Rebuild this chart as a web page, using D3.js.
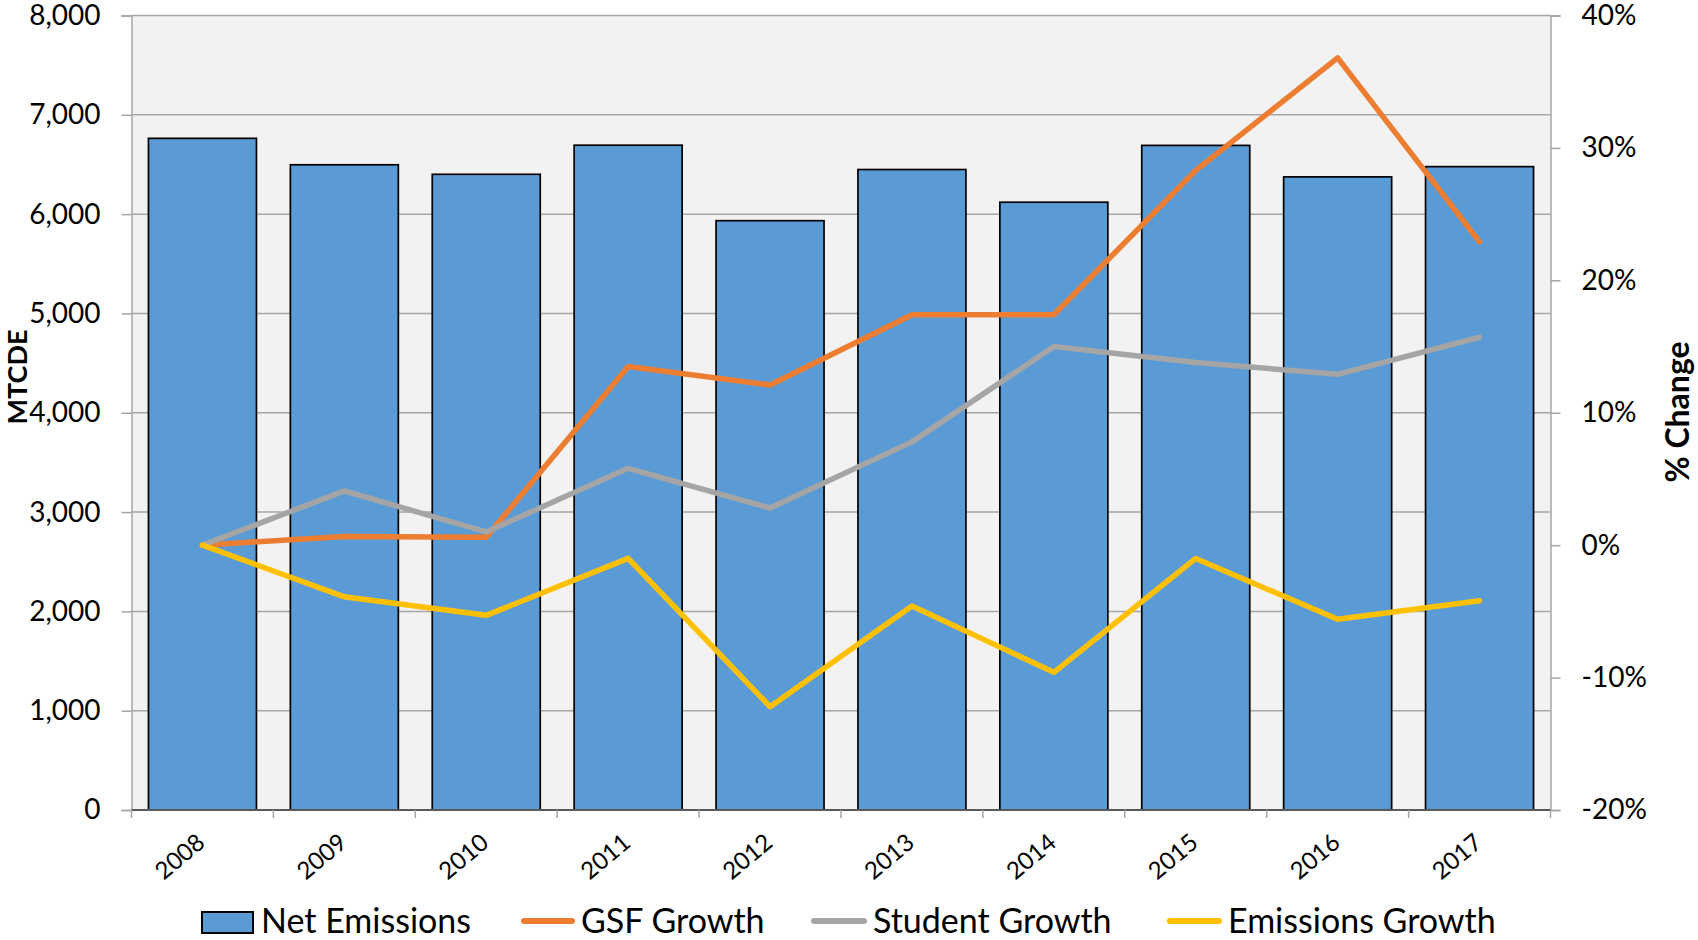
<!DOCTYPE html>
<html>
<head>
<meta charset="utf-8">
<script src="https://cdn.jsdelivr.net/npm/d3@7"></script>
<style>
  html, body { margin: 0; padding: 0; background: #ffffff; }
  svg { display: block; font-family: Lato, "Liberation Sans", sans-serif; }
</style>
</head>
<body>
<svg id="chart" width="1698" height="940"></svg>
<script>
// Annual net emissions (MTCDE) and growth relative to 2008 (%)
const years = ["2008", "2009", "2010", "2011", "2012", "2013", "2014", "2015", "2016", "2017"];
const netEmissions = [6763, 6497, 6401, 6694, 5934, 6449, 6120, 6692, 6375, 6478];
const gsfGrowth = [0, 0.66, 0.6, 13.5, 12.1, 17.4, 17.4, 28.3, 36.8, 22.9];
const studentGrowth = [0, 4.1, 1.0, 5.8, 2.8, 7.8, 15.0, 13.8, 12.9, 15.7];
const emissionsGrowth = [0, -3.9, -5.3, -1.0, -12.2, -4.6, -9.6, -1.0, -5.6, -4.2];

const leftTicks = [0, 1000, 2000, 3000, 4000, 5000, 6000, 7000, 8000];
const rightTicks = [-20, -10, 0, 10, 20, 30, 40];

const lineSeries = [
  { name: "GSF Growth", values: gsfGrowth, color: "#ed7d31" },
  { name: "Student Growth", values: studentGrowth, color: "#a5a5a5" },
  { name: "Emissions Growth", values: emissionsGrowth, color: "#ffc000" }
];

const svg = d3.select("#chart");
const plot = { left: 131.5, right: 1550.5, top: 15.5, bottom: 810 };

const x = d3.scaleBand().domain(years).range([plot.left, plot.right]).padding(0);
const barW = x.bandwidth() * 0.761;
const yL = d3.scaleLinear().domain([0, 8000]).range([plot.bottom, plot.top]);
const yR = d3.scaleLinear().domain([-20, 40]).range([plot.bottom, plot.top]);

// plot background
svg.append("rect")
  .attr("x", plot.left).attr("y", plot.top)
  .attr("width", plot.right - plot.left).attr("height", plot.bottom - plot.top)
  .attr("fill", "#f2f2f2");

// left axis with gridlines
const leftAxis = svg.append("g")
  .attr("transform", `translate(${plot.left},0)`)
  .call(d3.axisLeft(yL).tickValues(leftTicks).tickFormat(d3.format(",")).tickSize(10).tickPadding(21));
leftAxis.select(".domain").attr("stroke", "#a6a6a6").attr("stroke-width", 1.5);
leftAxis.selectAll(".tick line").attr("stroke", "#a6a6a6").attr("stroke-width", 1.5);
leftAxis.selectAll(".tick text").attr("font-size", 28).attr("fill", "#000").attr("font-family", "Lato");

svg.append("g").selectAll("line")
  .data(leftTicks.filter(d => d > 0))
  .join("line")
  .attr("x1", plot.left).attr("x2", plot.right)
  .attr("y1", d => yL(d)).attr("y2", d => yL(d))
  .attr("stroke", "#a6a6a6").attr("stroke-width", 1.5);

// right axis
const rightAxis = svg.append("g")
  .attr("transform", `translate(${plot.right},0)`)
  .call(d3.axisRight(yR).tickValues(rightTicks).tickFormat(d => d + "%").tickSize(10).tickPadding(21));
rightAxis.select(".domain").attr("stroke", "#a6a6a6").attr("stroke-width", 1.5);
rightAxis.selectAll(".tick line").attr("stroke", "#a6a6a6").attr("stroke-width", 1.5);
rightAxis.selectAll(".tick text").attr("font-size", 28).attr("fill", "#000").attr("font-family", "Lato");

// bars
svg.append("g").selectAll("rect")
  .data(years.map((y, i) => ({ year: y, value: netEmissions[i] })))
  .join("rect")
  .attr("x", d => x(d.year) + (x.bandwidth() - barW) / 2)
  .attr("y", d => yL(d.value))
  .attr("width", barW)
  .attr("height", d => yL(0) - yL(d.value))
  .attr("fill", "#5b9bd5")
  .attr("stroke", "#000")
  .attr("stroke-width", 1.7);

// bottom axis
const bottom = svg.append("g").attr("transform", `translate(0,${plot.bottom})`);
bottom.append("line")
  .attr("x1", plot.left).attr("x2", plot.right)
  .attr("stroke", "#595959").attr("stroke-width", 2);
const boundaries = years.map(y => x(y)).concat([plot.right]);
bottom.selectAll("line.tick")
  .data(boundaries)
  .join("line").attr("class", "tick")
  .attr("x1", d => d).attr("x2", d => d)
  .attr("y1", 0).attr("y2", 8)
  .attr("stroke", "#a6a6a6").attr("stroke-width", 1.5);
bottom.selectAll("text")
  .data(years)
  .join("text")
  .attr("transform", d => `translate(${x(d) + x.bandwidth() / 2 + 4},${35}) rotate(-40)`)
  .attr("text-anchor", "end")
  .attr("font-size", 24)
  .attr("fill", "#000")
  .text(d => d);

// growth lines
const line = d3.line()
  .x((d, i) => x(years[i]) + x.bandwidth() / 2)
  .y(d => yR(d));
svg.append("g").selectAll("path")
  .data(lineSeries)
  .join("path")
  .attr("d", d => line(d.values))
  .attr("fill", "none")
  .attr("stroke", d => d.color)
  .attr("stroke-width", 5.5)
  .attr("stroke-linejoin", "round")
  .attr("stroke-linecap", "round");

// axis titles
svg.append("text")
  .attr("transform", "translate(27,377) rotate(-90)")
  .attr("text-anchor", "middle")
  .attr("font-weight", "bold")
  .attr("font-size", 27)
  .text("MTCDE");
svg.append("text")
  .attr("transform", "translate(1689,412) rotate(-90)")
  .attr("text-anchor", "middle")
  .attr("font-weight", "bold")
  .attr("font-size", 32)
  .text("% Change");

// legend
const legend = svg.append("g");
legend.append("rect")
  .attr("x", 202).attr("y", 912).attr("width", 51).attr("height", 21)
  .attr("fill", "#5b9bd5").attr("stroke", "#000").attr("stroke-width", 2);
legend.append("text").attr("x", 261).attr("y", 933).attr("font-size", 34).text("Net Emissions");
const legendPos = [{ x1: 524, x2: 572, tx: 581 }, { x1: 814, x2: 864, tx: 873 }, { x1: 1170, x2: 1219, tx: 1228 }];
lineSeries.forEach((s, i) => {
  const p = legendPos[i];
  legend.append("line")
    .attr("x1", p.x1).attr("x2", p.x2).attr("y1", 921).attr("y2", 921)
    .attr("stroke", s.color).attr("stroke-width", 6).attr("stroke-linecap", "round");
  legend.append("text").attr("x", p.tx).attr("y", 933).attr("font-size", 34).text(s.name);
});
</script>
</body>
</html>
